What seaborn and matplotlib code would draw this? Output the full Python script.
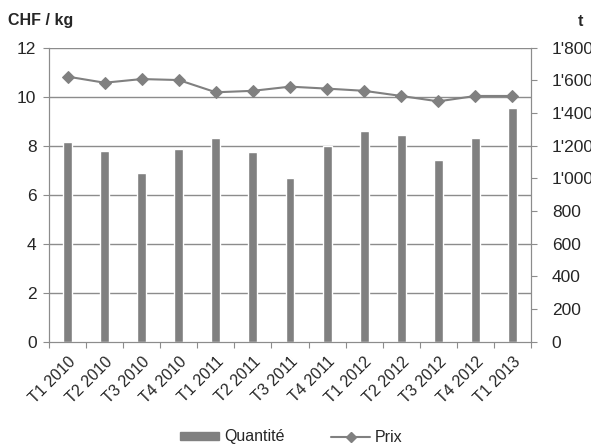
import numpy as np
import matplotlib
matplotlib.use("Agg")
import matplotlib.pyplot as plt
from matplotlib.ticker import FuncFormatter
from matplotlib.lines import Line2D
from matplotlib.patches import Patch
import seaborn as sns
import pandas as pd

quarters = ['T1 2010', 'T2 2010', 'T3 2010', 'T4 2010', 'T1 2011', 'T2 2011', 'T3 2011',
            'T4 2011', 'T1 2012', 'T2 2012', 'T3 2012', 'T4 2012', 'T1 2013']
quantite = [1224, 1170, 1031, 1178, 1249, 1163, 1004, 1200, 1290, 1266, 1113, 1249, 1433]
prix = [10.82, 10.57, 10.72, 10.68, 10.18, 10.24, 10.41, 10.33, 10.24, 10.03, 9.81, 10.03, 10.03]

df = pd.DataFrame({'trimestre': quarters, 'quantite': quantite, 'prix': prix})

grey = '#808080'
axis_grey = '#8c8c8c'

sns.set_style('white')
plt.rcParams['font.family'] = ['Liberation Sans', 'DejaVu Sans']

fig = plt.figure(figsize=(5.91, 4.47), dpi=100)
ax_q = fig.add_axes([49 / 591, 1 - 341.7 / 447, (531 - 49) / 591, (341.7 - 47.7) / 447])

# bars: quantity on the right axis
sns.barplot(data=df, x='trimestre', y='quantite', ax=ax_q, color=grey, width=0.24,
            saturation=1, zorder=2)
ax_q.set_ylim(0, 1800)
ax_q.set_yticks(np.arange(0, 1801, 200))
ax_q.yaxis.set_major_formatter(FuncFormatter(lambda v, p: f"{int(v):,}".replace(',', "'")))
ax_q.set_xlim(-0.5, len(quarters) - 0.5)

# line: price on the left axis
ax_p = ax_q.twinx()
sns.lineplot(x=np.arange(len(prix)), y=prix, ax=ax_p, color=grey, marker='D', markersize=6,
             markeredgecolor=grey, linewidth=1.5, zorder=3)
ax_p.set_ylim(0, 12)
ax_p.set_yticks(np.arange(0, 13, 2))
ax_p.set_xlim(-0.5, len(quarters) - 0.5)

# swap sides after twinx
ax_q.yaxis.tick_right()
ax_q.yaxis.set_label_position('right')
ax_p.yaxis.tick_left()
ax_p.yaxis.set_label_position('left')

# gridlines in price units
for v in np.arange(2, 13, 2):
    ax_q.axhline(v * 150, color=axis_grey, linewidth=1, zorder=1)

ax_q.set_xticks(np.arange(-0.5, len(quarters), 1), minor=False)
ax_q.set_xticklabels([])
ax_q.set_xticks(np.arange(len(quarters)), minor=True)
ax_q.set_xticklabels(quarters, minor=True, rotation=45, ha='right', rotation_mode='anchor',
                     fontsize=11.5)
ax_q.tick_params(axis='x', which='major', direction='out', length=4, color=axis_grey, bottom=True)
ax_q.tick_params(axis='x', which='minor', length=0, pad=9)
ax_q.tick_params(axis='y', direction='out', length=4, color=axis_grey, labelsize=12.5, pad=11,
                 right=True, left=False, labelright=True, labelleft=False)
ax_p.tick_params(axis='y', direction='out', length=4, color=axis_grey, labelsize=12.5, pad=5,
                 left=True, right=False, labelleft=True, labelright=False)

for a in (ax_q, ax_p):
    a.set_xlabel('')
    a.set_ylabel('')
    for s in a.spines.values():
        s.set_color(axis_grey)
    a.spines['top'].set_visible(False)

fig.text(8 / 591, 1 - 20 / 447, 'CHF / kg', fontsize=11.5, fontweight='bold', va='center', ha='left')
fig.text(580 / 591, 1 - 22 / 447, 't', fontsize=11.5, fontweight='bold', va='center', ha='center')

handles = [Patch(facecolor=grey, edgecolor=grey),
           Line2D([0], [0], color=grey, marker='D', markersize=5, linewidth=1.5)]
fig.legend(handles, ['Quantité', 'Prix'], loc='center', bbox_to_anchor=(291.5 / 591, 1 - 437 / 447),
           ncol=2, frameon=False, fontsize=11.5, handlelength=2.45, handletextpad=0.3,
           columnspacing=2.9, handleheight=0.35)

fig.savefig('out.png', dpi=100)
